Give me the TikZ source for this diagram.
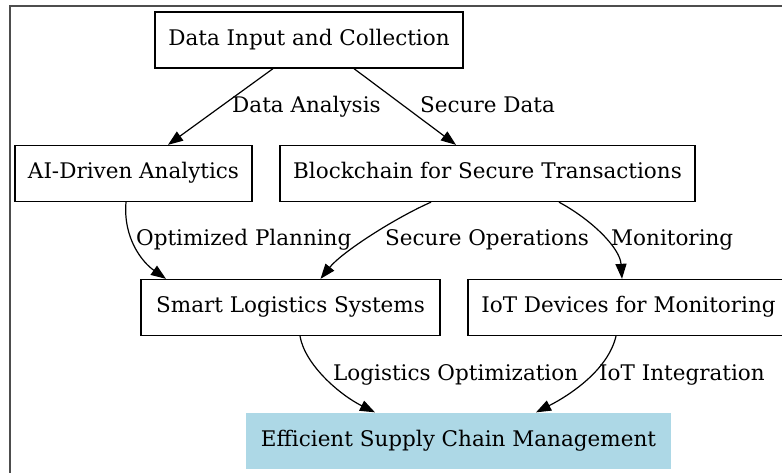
\documentclass[tikz,border=0pt]{standalone}
\usepackage{fontspec}
\setmainfont{DejaVu Serif}
\usetikzlibrary{arrows.meta}

\definecolor{boxblue}{HTML}{ADD8E6}
\definecolor{framegray}{HTML}{4D4D4D}

\tikzset{
  every node/.style={font=\fontsize{21.5}{26}\selectfont},
  stage/.style={draw=black, line width=1.3pt, rectangle, inner sep=0pt,
                minimum height=56pt, text height=16pt, text depth=6pt},
  goal/.style={stage, draw=none, fill=boxblue},
  edgelabel/.style={anchor=base west, inner sep=0pt},
  flow/.style={line width=1.2pt, -{Triangle[length=15pt,width=11pt]}},
}

\begin{document}
\begin{tikzpicture}[x=1pt, y=-1pt]
  \useasboundingbox (0,0) rectangle (782,472);
  \clip (0,0) rectangle (782,472);

  % outer frame (runs past the right and bottom edges)
  \draw[framegray, line width=2pt] (9.5,5.5) rectangle (820,500);

  % stages
  \node[stage, minimum width=308pt] (input) at (309,40)    {Data Input and Collection};
  \node[stage, minimum width=237pt] (ai)    at (133.5,173.5) {AI-Driven Analytics};
  \node[stage, minimum width=415pt] (chain) at (487.5,173.5) {Blockchain for Secure Transactions};
  \node[stage, minimum width=299pt] (smart) at (290.5,307.5) {Smart Logistics Systems};
  \node[stage, minimum width=321pt] (iot)   at (628.5,307.5) {IoT Devices for Monitoring};
  \node[goal,  minimum width=425pt] (eff)   at (458.5,441)   {Efficient Supply Chain Management};

  % connectors
  \draw[flow] ([xshift=-36pt]input.south) -- ([xshift=34.5pt]ai.north);
  \draw[flow] ([xshift=45pt]input.south) -- ([xshift=-31.5pt]chain.north);
  \draw[flow] ([xshift=-7.5pt]ai.south) .. controls (123,238) and (142,262) .. ([xshift=-124.5pt]smart.north);
  \draw[flow] ([xshift=-56.5pt]chain.south) .. controls (395,218) and (342,252) .. ([xshift=30pt]smart.north);
  \draw[flow] ([xshift=71.5pt]chain.south) .. controls (592,220) and (620,248) .. ([xshift=-6.5pt]iot.north);
  \draw[flow] ([xshift=9.5pt]smart.south) .. controls (305,365) and (340,395) .. ([xshift=-83.5pt]eff.north);
  \draw[flow] ([xshift=-12.5pt]iot.south) .. controls (608,370) and (570,395) .. ([xshift=77.5pt]eff.north);

  % connector labels
  \node[edgelabel] (lblA) at (232,112) {Data Analysis};
  \node[edgelabel] (lblB) at (420,112) {Secure Data};
  \node[edgelabel] (lblC) at (136,245) {Optimized Planning};
  \node[edgelabel] (lblD) at (385,245) {Secure Operations};
  \node[edgelabel] (lblE) at (611,245) {Monitoring};
  \node[edgelabel] (lblF) at (333,380) {Logistics Optimization};
  \node[edgelabel] (lblG) at (599,380) {IoT Integration};
\end{tikzpicture}
\end{document}
